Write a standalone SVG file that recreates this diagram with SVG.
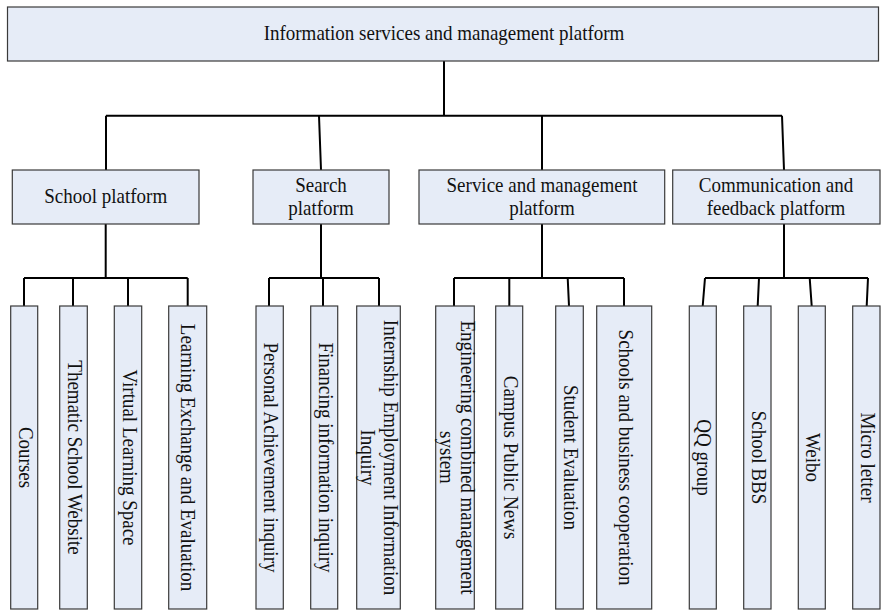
<svg xmlns="http://www.w3.org/2000/svg" width="883" height="611" viewBox="0 0 883 611">
  <style>
    .box { fill: #e6ecf7; stroke: #3a3a3a; stroke-width: 1.2; }
    .lbl { font-family: "Liberation Serif", "Times New Roman", serif; font-size: 19px; fill: #111; text-anchor: middle; }
    #connectors path { fill: none; stroke: #000; stroke-width: 2; }
  </style>
  <rect width="883" height="611" fill="#fff"/>

  <g id="connectors">
    <!-- root to second level -->
    <path d="M444 61 V115.7 M106 115.7 H782 M106 115.7 V170 M319 115.7 L321 170 M542 115.7 V170 M782 115.7 L784 170"/>
    <!-- school platform -->
    <path d="M105.7 224 V278 M24 278 H187.7 M24 278 V306 M73 278 V306 M128 278 V306 M187.7 278 V306"/>
    <!-- search platform -->
    <path d="M321 224 V278 M269 278 H379 M269 278 V306 M323 278 V306 M379 278 V306"/>
    <!-- service and management platform -->
    <path d="M542 224 V278 M454 278 H624 M454 278 V306 M509.3 278 V306 M567.7 278 L569 306 M624 278 V306"/>
    <!-- communication and feedback platform -->
    <path d="M784 224 V278 M705 278 H868 M705 278 L702.7 306 M759 278 L757.7 306 M809.7 278 L811.7 306 M868 278 L866.7 306"/>
  </g>

  <!-- labels are drawn at the origin and placed by transform (slightly tall glyphs) -->
  <g id="root">
    <rect class="box" x="7.5" y="7" width="871" height="54"/>
    <text class="lbl" transform="translate(444 40) scale(1 1.08)">Information services and management platform</text>
  </g>

  <g id="school-platform">
    <rect class="box" x="12.3" y="170" width="186.7" height="54"/>
    <text class="lbl" transform="translate(105.7 203) scale(1 1.08)">School platform</text>
  </g>
  <g id="search-platform">
    <rect class="box" x="253" y="170" width="136" height="54"/>
    <text class="lbl" transform="translate(321 192) scale(1 1.08)">Search</text>
    <text class="lbl" transform="translate(321 215) scale(1 1.08)">platform</text>
  </g>
  <g id="service-platform">
    <rect class="box" x="419" y="170" width="245.7" height="54"/>
    <text class="lbl" transform="translate(542 192) scale(1 1.08)">Service and management</text>
    <text class="lbl" transform="translate(542 215) scale(1 1.08)">platform</text>
  </g>
  <g id="communication-platform">
    <rect class="box" x="672.7" y="170" width="207.3" height="54"/>
    <text class="lbl" transform="translate(776 192) scale(1 1.08)">Communication and</text>
    <text class="lbl" transform="translate(776 215) scale(1 1.08)">feedback platform</text>
  </g>

  <!-- leaf nodes: vertical boxes, text reads top to bottom -->
  <g id="courses">
    <rect class="box" x="10.7" y="306" width="27" height="303"/>
    <text class="lbl" transform="translate(18.7 457.5) rotate(90) scale(1 1.08)">Courses</text>
  </g>
  <g id="thematic-school-website">
    <rect class="box" x="59.7" y="306" width="27.6" height="303"/>
    <text class="lbl" transform="translate(68 457.5) rotate(90) scale(1 1.08)">Thematic School Website</text>
  </g>
  <g id="virtual-learning-space">
    <rect class="box" x="114.3" y="306" width="27.4" height="303"/>
    <text class="lbl" transform="translate(123 457.5) rotate(90) scale(1 1.08)">Virtual Learning Space</text>
  </g>
  <g id="learning-exchange">
    <rect class="box" x="168.7" y="306" width="38" height="303"/>
    <text class="lbl" transform="translate(181 457.5) rotate(90) scale(1 1.08)">Learning Exchange and Evaluation</text>
  </g>

  <g id="personal-achievement">
    <rect class="box" x="256" y="306" width="27.3" height="303"/>
    <text class="lbl" transform="translate(264 457.5) rotate(90) scale(1 1.08)">Personal Achievement inquiry</text>
  </g>
  <g id="financing-information">
    <rect class="box" x="310.7" y="306" width="27" height="303"/>
    <text class="lbl" transform="translate(318.7 457.5) rotate(90) scale(1 1.08)">Financing information inquiry</text>
  </g>
  <g id="internship-employment">
    <rect class="box" x="356.7" y="306" width="43.6" height="303"/>
    <text class="lbl" transform="translate(384 457.5) rotate(90) scale(1 1.08)">Internship Employment Information</text>
    <text class="lbl" transform="translate(361 457.5) rotate(90) scale(1 1.08)">Inquiry</text>
  </g>

  <g id="engineering-management">
    <rect class="box" x="435.7" y="306" width="38.6" height="303"/>
    <text class="lbl" transform="translate(461 457.5) rotate(90) scale(1 1.08)">Engineering combined management</text>
    <text class="lbl" transform="translate(440 457.5) rotate(90) scale(1 1.08)">system</text>
  </g>
  <g id="campus-public-news">
    <rect class="box" x="495.7" y="306" width="27" height="303"/>
    <text class="lbl" transform="translate(503.7 457.5) rotate(90) scale(1 1.08)">Campus Public News</text>
  </g>
  <g id="student-evaluation">
    <rect class="box" x="555.7" y="306" width="27.6" height="303"/>
    <text class="lbl" transform="translate(564 457.5) rotate(90) scale(1 1.08)">Student Evaluation</text>
  </g>
  <g id="school-business-cooperation">
    <rect class="box" x="596.7" y="306" width="55" height="303"/>
    <text class="lbl" transform="translate(618.5 457.5) rotate(90) scale(1 1.08)">Schools and business cooperation</text>
  </g>

  <g id="qq-group">
    <rect class="box" x="689.3" y="306" width="27" height="303"/>
    <text class="lbl" transform="translate(697.3 457.5) rotate(90) scale(1 1.08)">QQ group</text>
  </g>
  <g id="school-bbs">
    <rect class="box" x="743.7" y="306" width="27.3" height="303"/>
    <text class="lbl" transform="translate(751.8 457.5) rotate(90) scale(1 1.08)">School BBS</text>
  </g>
  <g id="weibo">
    <rect class="box" x="798.3" y="306" width="27" height="303"/>
    <text class="lbl" transform="translate(806.3 457.5) rotate(90) scale(1 1.08)">Weibo</text>
  </g>
  <g id="micro-letter">
    <rect class="box" x="852.7" y="306" width="27.3" height="303"/>
    <text class="lbl" transform="translate(860.8 457.5) rotate(90) scale(1 1.08)">Micro letter</text>
  </g>
</svg>
